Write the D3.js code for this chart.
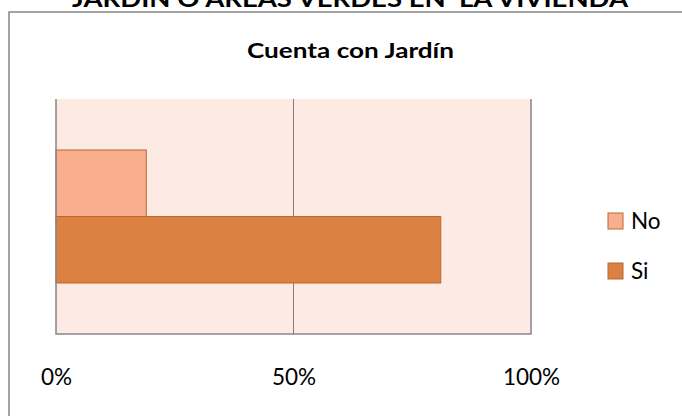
<!DOCTYPE html>
<html>
<head>
<meta charset="utf-8">
<script src="https://cdn.jsdelivr.net/npm/d3@7"></script>
<style>
  html, body { margin: 0; padding: 0; background: #fff; }
  svg { display: block; }
  text { font-family: Lato, "Open Sans", sans-serif; }
</style>
</head>
<body>
<svg id="chart" width="682" height="416"></svg>
<script>
// Survey: does the home have a garden?
const mainTitle = "JARDIN O AREAS VERDES EN  LA VIVIENDA";
const chartTitle = "Cuenta con Jardín";
const categories = ["Cuenta con Jardín"];
const seriesNames = ["No", "Si"];
const seriesValues = [0.19, 0.81];
const tickValues = [0, 0.5, 1];
const tickLabels = ["0%", "50%", "100%"];
const seriesFill = ["#F9AF8D", "#DB8243"];
const seriesStroke = ["#B8682F", "#B8682F"];

const svg = d3.select("#chart");

const plot = { left: 56, right: 531, top: 99, bottom: 334 };

// outer frame (extends past the right and bottom of the view)
svg.append("rect")
  .attr("x", 9).attr("y", 12)
  .attr("width", 700).attr("height", 430)
  .attr("fill", "#fff")
  .attr("stroke", "#868686").attr("stroke-width", 1.5);

// main heading, mostly above the frame
svg.append("text")
  .attr("x", 72).attr("y", 7)
  .attr("textLength", 556).attr("lengthAdjust", "spacingAndGlyphs")
  .style("white-space", "pre")
  .attr("font-size", 22).attr("font-weight", "bold")
  .attr("fill", "#000")
  .text(mainTitle);

// chart title
svg.append("text")
  .attr("x", 247).attr("y", 58)
  .attr("textLength", 207).attr("lengthAdjust", "spacingAndGlyphs")
  .attr("font-size", 21).attr("font-weight", "bold")
  .attr("fill", "#000")
  .text(chartTitle);

const x = d3.scaleLinear().domain([0, 1]).range([plot.left, plot.right]);
const yCat = d3.scaleBand().domain(categories)
  .range([plot.top, plot.bottom]).paddingInner(0).paddingOuter(0.3835);
const ySer = d3.scaleBand().domain(seriesNames).range([0, yCat.bandwidth()]);

// plot background
svg.append("rect")
  .attr("x", plot.left).attr("y", plot.top)
  .attr("width", plot.right - plot.left).attr("height", plot.bottom - plot.top)
  .attr("fill", "#FDEAE3");

// vertical gridlines
svg.append("g").selectAll("line")
  .data(tickValues.slice(1, -1))
  .join("line")
  .attr("x1", d => x(d)).attr("x2", d => x(d))
  .attr("y1", plot.top).attr("y2", plot.bottom)
  .attr("stroke", "#7f7f7f").attr("stroke-width", 1);

// bars
const rows = seriesNames.map((s, i) => ({ s, v: seriesValues[i], i }));
svg.append("g").selectAll("rect")
  .data(rows)
  .join("rect")
  .attr("x", x(0))
  .attr("y", d => yCat(categories[0]) + ySer(d.s))
  .attr("width", d => x(d.v) - x(0))
  .attr("height", ySer.bandwidth())
  .attr("fill", d => seriesFill[d.i])
  .attr("stroke", d => seriesStroke[d.i])
  .attr("stroke-width", 1);

// plot border
svg.append("path")
  .attr("d", `M${plot.left},${plot.top}V${plot.bottom}H${plot.right}V${plot.top}`)
  .attr("fill", "none")
  .attr("stroke", "#86868a").attr("stroke-width", 1.5);

// x axis labels
const axis = d3.axisBottom(x)
  .tickValues(tickValues)
  .tickFormat((d, i) => tickLabels[i])
  .tickSize(0).tickPadding(0);
const gAxis = svg.append("g")
  .attr("transform", `translate(0,${plot.bottom + 35})`)
  .call(axis);
gAxis.select(".domain").remove();
gAxis.selectAll("text")
  .attr("font-family", "Lato, sans-serif")
  .attr("font-size", 22.5)
  .attr("fill", "#000");

// legend
const legend = svg.append("g").selectAll("g")
  .data(rows)
  .join("g")
  .attr("transform", d => `translate(608,${213 + d.i * 50})`);
legend.append("rect")
  .attr("width", 15).attr("height", 16)
  .attr("fill", d => seriesFill[d.i])
  .attr("stroke", d => seriesStroke[d.i]).attr("stroke-width", 1);
legend.append("text")
  .attr("x", 23).attr("y", 16)
  .attr("font-size", 22.5)
  .attr("fill", "#000")
  .text(d => d.s);
</script>
</body>
</html>
